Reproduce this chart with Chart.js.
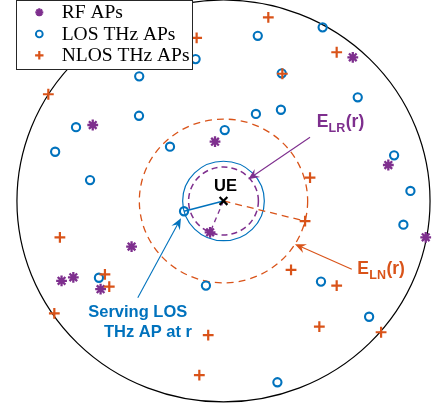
<!DOCTYPE html>
<html>
<head>
<meta charset="utf-8">
<script src="https://cdn.jsdelivr.net/npm/chart.js@4"></script>
<style>
  html, body { margin: 0; padding: 0; background: #fff; overflow: hidden; }
  canvas { display: block; }
</style>
</head>
<body>
<canvas id="c" width="435" height="408"></canvas>
<script>
// Network snapshot: UE at the origin, cell of radius 100 around it.
const cellRadius = 100;
const ue = [0, 0];

// RF access points
const rfAPs = [
  [62.6, 71.5], [-63.3, 37.8], [-4.1, 29.5], [79.8, 17.9], [-6.5, -15.6],
  [-44.5, -22.7], [97.9, -18.1], [-78.4, -39.7], [-72.7, -38.0], [-59.5, -43.9]
];

// THz access points with a line-of-sight path to the UE
const losAPs = [
  [-13.5, 70.6], [-40.8, 62.0], [16.6, 82.2], [48.0, 86.4], [28.2, 63.5],
  [65.0, 51.6], [-40.9, 42.4], [-71.4, 36.7], [15.7, 43.3], [27.8, 45.4],
  [0.6, 35.3], [-25.9, 27.0], [-81.5, 24.5], [-64.6, 10.4], [82.6, 22.7],
  [90.5, 5.0], [87.1, -11.8], [-19.1, -5.1], [-60.3, -38.2], [-8.5, -42.1],
  [47.2, -40.1], [70.5, -57.6], [26.1, -90.2]
];

// THz access points without line of sight
const nlosAPs = [
  [21.7, 91.4], [-13.0, 81.2], [54.8, 74.0], [28.5, 63.3], [-84.8, 53.1],
  [41.9, 11.6], [39.5, -10.0], [-79.2, -18.1], [32.7, -34.3], [-57.4, -36.5],
  [-55.3, -42.6], [54.8, -42.1], [-81.9, -55.9], [46.4, -62.5], [76.3, -65.3],
  [-7.4, -66.7], [-11.7, -86.6]
];

const seriesLabels = ['RF APs', 'LOS THz APs', 'NLOS THz APs'];

// Nearest AP of each kind; these set the exclusion-region radii
const servingLOS = losAPs[17];
const nearestRF = rfAPs[4];
const nearestNLOS = nlosAPs[6];

const PURPLE = '#7E2F8E';
const BLUE = '#0072BD';
const ORANGE = '#D95319';

const toXY = arr => arr.map(p => ({ x: p[0], y: p[1] }));
const dist = p => Math.hypot(p[0] - ue[0], p[1] - ue[1]);

function px(chart, p) {
  return [chart.scales.x.getPixelForValue(p[0]), chart.scales.y.getPixelForValue(p[1])];
}

function ring(ctx, chart, center, r, color, width, dash) {
  const [cx, cy] = px(chart, center);
  const rx = Math.abs(chart.scales.x.getPixelForValue(center[0] + r) - cx);
  const ry = Math.abs(chart.scales.y.getPixelForValue(center[1] + r) - cy);
  ctx.save();
  ctx.strokeStyle = color;
  ctx.lineWidth = width;
  ctx.setLineDash(dash || []);
  ctx.beginPath();
  ctx.ellipse(cx, cy, rx, ry, 0, 0, Math.PI * 2);
  ctx.stroke();
  ctx.restore();
}

function segment(ctx, chart, a, b, color, width, dash) {
  const [x1, y1] = px(chart, a);
  const [x2, y2] = px(chart, b);
  ctx.save();
  ctx.strokeStyle = color;
  ctx.lineWidth = width;
  ctx.setLineDash(dash || []);
  ctx.beginPath();
  ctx.moveTo(x1, y1);
  ctx.lineTo(x2, y2);
  ctx.stroke();
  ctx.restore();
}

function arrow(ctx, chart, from, to, color) {
  const [x1, y1] = px(chart, from);
  const [x2, y2] = px(chart, to);
  const ang = Math.atan2(y2 - y1, x2 - x1);
  const ux = Math.cos(ang), uy = Math.sin(ang);
  const nx = -uy, ny = ux;
  const len = 11, half = 4.8;
  ctx.save();
  ctx.strokeStyle = color;
  ctx.fillStyle = color;
  ctx.lineWidth = 1.1;
  ctx.beginPath();
  ctx.moveTo(x1, y1);
  ctx.lineTo(x2 - ux * len * 0.6, y2 - uy * len * 0.6);
  ctx.stroke();
  const bx = x2 - ux * len, by = y2 - uy * len;
  ctx.beginPath();
  ctx.moveTo(x2, y2);
  ctx.lineTo(bx + nx * half, by + ny * half);
  ctx.lineTo(x2 - ux * len * 0.65, y2 - uy * len * 0.65);
  ctx.lineTo(bx - nx * half, by - ny * half);
  ctx.closePath();
  ctx.fill();
  ctx.restore();
}

// Letter with a subscript and a trailing "(r)"
function subLabel(ctx, chart, pos, main, sub, tail, color) {
  const [x, y] = px(chart, pos);
  ctx.save();
  ctx.fillStyle = color;
  ctx.textAlign = 'left';
  ctx.textBaseline = 'alphabetic';
  ctx.font = 'bold 17.5px "Liberation Sans", Arial, sans-serif';
  ctx.fillText(main, x, y);
  let cx = x + ctx.measureText(main).width + 0.3;
  ctx.font = 'bold 12.5px "Liberation Sans", Arial, sans-serif';
  ctx.fillText(sub, cx, y + 5);
  cx += ctx.measureText(sub).width + 0.5;
  ctx.font = 'bold 17.5px "Liberation Sans", Arial, sans-serif';
  ctx.fillText(tail, cx, y);
  ctx.restore();
}

// Legend marker glyphs
function marker(ctx, style, x, y, r, color, width) {
  ctx.save();
  ctx.strokeStyle = color;
  ctx.lineWidth = width;
  ctx.beginPath();
  if (style === 'circle') {
    ctx.arc(x, y, r, 0, Math.PI * 2);
  } else {
    const angles = style === 'star'
      ? [0, Math.PI / 4, Math.PI / 2, 3 * Math.PI / 4]
      : [0, Math.PI / 2];
    angles.forEach(a => {
      ctx.moveTo(x - r * Math.cos(a), y - r * Math.sin(a));
      ctx.lineTo(x + r * Math.cos(a), y + r * Math.sin(a));
    });
  }
  ctx.stroke();
  ctx.restore();
}

const scene = {
  id: 'scene',
  beforeDatasetsDraw(chart) {
    const ctx = chart.ctx;
    // cell boundary
    ring(ctx, chart, ue, cellRadius, '#000', 1.2);
    // exclusion regions
    ring(ctx, chart, ue, dist(servingLOS), BLUE, 1.2);
    ring(ctx, chart, ue, dist(nearestRF), PURPLE, 1.5, [6, 4]);
    ring(ctx, chart, ue, dist(nearestNLOS), ORANGE, 1.3, [7, 5]);
    // links from the UE
    segment(ctx, chart, ue, nearestRF, PURPLE, 1.3, [5, 4]);
    segment(ctx, chart, ue, nearestNLOS, ORANGE, 1.3, [7, 5]);
    segment(ctx, chart, ue, servingLOS, BLUE, 1.6);
  },
  afterDatasetsDraw(chart) {
    const ctx = chart.ctx;

    // UE label
    const [ux, uy] = px(chart, [1.0, 5.0]);
    ctx.save();
    ctx.fillStyle = '#000';
    ctx.font = 'bold 16.5px "Liberation Sans", Arial, sans-serif';
    ctx.textAlign = 'center';
    ctx.textBaseline = 'alphabetic';
    ctx.fillText('UE', ux, uy);
    ctx.restore();

    // annotations
    arrow(ctx, chart, [41.9, 31.7], [12.0, 10.8], PURPLE);
    subLabel(ctx, chart, [45.1, 37.0], 'E', 'LR', '(r)', PURPLE);

    arrow(ctx, chart, [62.1, -34.0], [34.6, -21.5], ORANGE);
    subLabel(ctx, chart, [64.8, -36.3], 'E', 'LN', '(r)', ORANGE);

    arrow(ctx, chart, [-41.5, -48.1], [-20.6, -8.6], BLUE);
    ctx.save();
    ctx.fillStyle = BLUE;
    ctx.font = 'bold 16.5px "Liberation Sans", Arial, sans-serif';
    ctx.textAlign = 'left';
    ctx.textBaseline = 'alphabetic';
    let [tx, ty] = px(chart, [-65.5, -57.6]);
    ctx.fillText('Serving LOS', tx, ty);
    [tx, ty] = px(chart, [-57.9, -67.8]);
    ctx.fillText('THz AP at r', tx, ty);
    ctx.restore();

    // legend box
    ctx.save();
    ctx.fillStyle = '#fff';
    ctx.fillRect(16.5, 0.5, 176, 69);
    ctx.strokeStyle = '#262626';
    ctx.lineWidth = 1;
    ctx.strokeRect(16.5, 0.5, 176, 69);
    const rows = [12.3, 34, 55.3];
    const styles = [['star', PURPLE, 4, 2.2], ['circle', BLUE, 3.4, 1.9], ['cross', ORANGE, 4.2, 2.2]];
    ctx.font = '19.5px "Liberation Serif", "Times New Roman", serif';
    ctx.textAlign = 'left';
    ctx.textBaseline = 'middle';
    rows.forEach((y, i) => {
      const [st, col, r, w] = styles[i];
      marker(ctx, st, 39.3, y, r, col, w);
      ctx.fillStyle = '#000';
      ctx.fillText(seriesLabels[i], 61.7, y + 1);
    });
    ctx.restore();
  }
};

new Chart(document.getElementById('c'), {
  type: 'scatter',
  data: {
    datasets: [
      {
        label: 'UE',
        data: toXY([ue]),
        pointStyle: 'crossRot',
        pointRadius: 5.5,
        borderColor: '#000',
        backgroundColor: 'rgba(0,0,0,0)',
        pointBorderWidth: 2.2,
        order: 0
      },
      {
        label: seriesLabels[2],
        data: toXY(nlosAPs),
        pointStyle: 'cross',
        pointRadius: 5.4,
        borderColor: ORANGE,
        backgroundColor: 'rgba(0,0,0,0)',
        pointBorderWidth: 2.2,
        order: 1
      },
      {
        label: seriesLabels[1],
        data: toXY(losAPs),
        pointStyle: 'circle',
        pointRadius: 4.1,
        borderColor: BLUE,
        backgroundColor: 'rgba(0,0,0,0)',
        pointBorderWidth: 2.1,
        order: 2
      },
      {
        label: seriesLabels[0],
        data: toXY(rfAPs),
        pointStyle: 'star',
        pointRadius: 5.4,
        borderColor: PURPLE,
        backgroundColor: 'rgba(0,0,0,0)',
        pointBorderWidth: 2.3,
        order: 3
      }
    ]
  },
  options: {
    responsive: false,
    animation: false,
    devicePixelRatio: 1,
    events: [],
    clip: false,
    layout: { padding: 0, autoPadding: false },
    plugins: {
      legend: { display: false },
      tooltip: { enabled: false }
    },
    scales: {
      x: { type: 'linear', min: -108.2, max: 102.4, display: false },
      y: { type: 'linear', min: -103, max: 100, display: false }
    }
  },
  plugins: [scene]
});
</script>
</body>
</html>
